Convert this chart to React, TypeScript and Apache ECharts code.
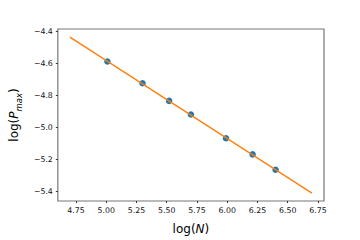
import React, { useEffect, useRef } from "react";
import * as echarts from "echarts";

const logN = [5.01, 5.3, 5.52, 5.7, 5.99, 6.21, 6.4];
const logPmax = [-4.588, -4.724, -4.834, -4.919, -5.067, -5.168, -5.264];
const fitX = [4.7, 6.7];
const fitY = [-4.436, -5.41];
const xTicks = [4.75, 5.0, 5.25, 5.5, 5.75, 6.0, 6.25, 6.5, 6.75];
const yTicks = [-5.4, -5.2, -5.0, -4.8, -4.6, -4.4];

const FONT = "DejaVu Sans";

export default function App() {
  const ref = useRef<HTMLDivElement>(null);
  useEffect(() => {
    if (!ref.current) return;
    const chart = echarts.init(ref.current, undefined, { renderer: "svg" });
    const fmt = (v: number, d: number) => v.toFixed(d).replace("-", "\u2212");
    chart.setOption({
      animation: false,
      backgroundColor: "#ffffff",
      grid: {
        left: 45,
        top: 29,
        right: 36,
        bottom: 31,
        show: true,
        borderColor: "#777",
        borderWidth: 1.2,
        backgroundColor: "transparent",
      },
      xAxis: {
        type: "value",
        min: 4.6,
        max: 6.8,
        splitLine: { show: false },
        axisLine: { show: false },
        axisTick: {
          show: true,
          length: 2,
          lineStyle: { color: "#333" },
          customValues: xTicks,
        },
        axisLabel: {
          customValues: xTicks,
          formatter: (v: number) => fmt(v, 2),
          fontFamily: FONT,
          fontSize: 7.8,
          color: "#111",
          margin: 5,
        },
        name: "log({i|N})",
        nameLocation: "middle",
        nameGap: 22,
        nameTextStyle: {
          fontFamily: FONT,
          fontSize: 12,
          color: "#000",
          rich: {
            i: { fontFamily: FONT, fontSize: 12, fontStyle: "italic", color: "#000" },
          },
        },
      },
      yAxis: {
        type: "value",
        min: -5.459,
        max: -4.385,
        splitLine: { show: false },
        axisLine: { show: false },
        axisTick: {
          show: true,
          length: 2,
          lineStyle: { color: "#333" },
          customValues: yTicks,
        },
        axisLabel: {
          customValues: yTicks,
          formatter: (v: number) => fmt(v, 1),
          fontFamily: FONT,
          fontSize: 7.8,
          color: "#111",
          margin: 5,
        },
        name: "{a|log(}{i|P}{s|max}{a|)}",
        nameLocation: "middle",
        nameRotate: 90,
        nameGap: 33,
        nameTextStyle: {
          fontFamily: FONT,
          fontSize: 12,
          color: "#000",
          rich: {
            a: { fontFamily: FONT, fontSize: 12, color: "#000", lineHeight: 18, verticalAlign: "middle" },
            i: { fontFamily: FONT, fontSize: 12, fontStyle: "italic", color: "#000", lineHeight: 18, verticalAlign: "middle" },
            s: {
              fontFamily: FONT,
              fontSize: 8.5,
              fontStyle: "italic",
              color: "#000",
              lineHeight: 18,
              verticalAlign: "bottom",
            },
          },
        },
      },
      series: [
        {
          type: "scatter",
          data: logN.map((x, i) => [x, logPmax[i]]),
          symbolSize: 6.5,
          itemStyle: { color: "#1f77b4", opacity: 1 },
          z: 2,
        },
        {
          type: "line",
          data: fitX.map((x, i) => [x, fitY[i]]),
          showSymbol: false,
          symbol: "none",
          lineStyle: { color: "#ff7f0e", width: 1.4 },
          z: 3,
        },
      ],
    });
    return () => chart.dispose();
  }, []);
  return <div ref={ref} style={{ width: 360, height: 240, position: "absolute", left: 0, top: 0 }} />;
}
